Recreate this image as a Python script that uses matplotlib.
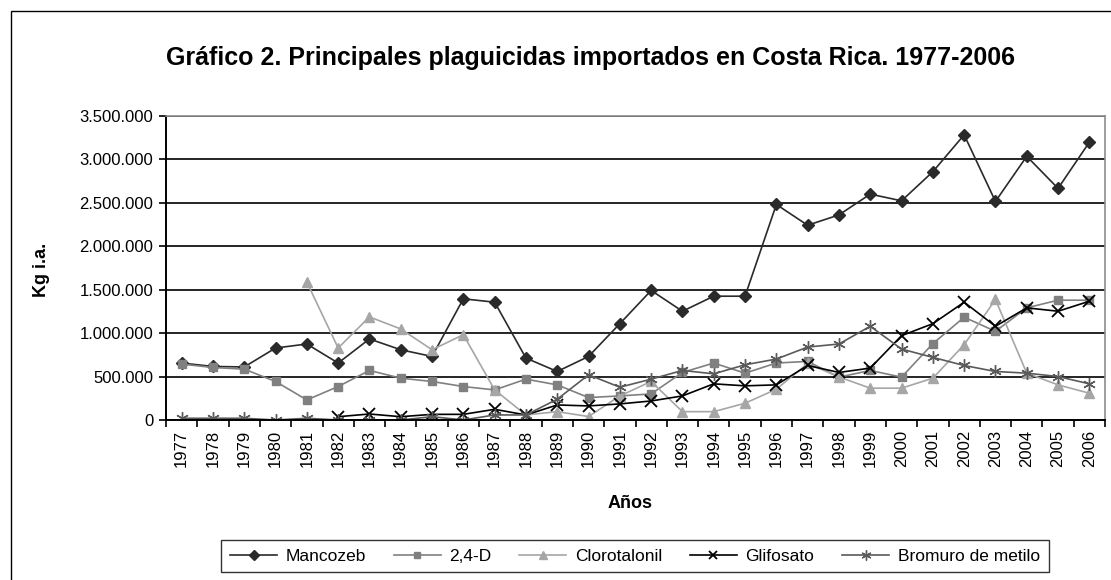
import numpy as np
import matplotlib
matplotlib.use("Agg")
import matplotlib.pyplot as plt
from matplotlib.ticker import FuncFormatter, MultipleLocator
from matplotlib.patches import Rectangle

plt.rcParams['font.family'] = ['Liberation Sans', 'DejaVu Sans']

years = list(range(1977, 2007))
nan = np.nan

mancozeb = [655000, 616000, 610000, 828000, 874000, 655000, 932000, 808000, 731000, 1394000,
            1355000, 712000, 558000, 731000, 1108000, 1490000, 1251000, 1424000, 1424000, 2479000,
            2240000, 2359000, 2598000, 2521000, 2856000, 3280000, 2514000, 3033000, 2664000, 3195000]
d24 = [643000, 604000, 585000, 443000, 231000, 385000, 570000, 481000, 443000, 385000,
       346000, 470000, 404000, 258000, 277000, 300000, 547000, 655000, 539000, 655000,
       674000, 493000, 570000, 493000, 878000, 1182000, 1020000, 1290000, 1378000, 1378000]
clorotalonil = [nan, nan, nan, nan, 1586000, 828000, 1186000, 1047000, 808000, 981000,
                346000, 58000, 96000, 40000, 277000, 443000, 96000, 96000, 193000, 354000,
                650000, 495000, 366000, 366000, 481000, 866000, 1386000, 539000, 404000, 308000]
glifosato = [nan, nan, nan, nan, nan, 38000, 69000, 38000, 65000, 65000,
             123000, 58000, 173000, 162000, 185000, 219000, 277000, 416000, 393000, 404000,
             627000, 547000, 597000, 970000, 1108000, 1355000, 1078000, 1290000, 1251000, 1366000]
bromuro = [20000, 20000, 20000, 0, 20000, 0, 0, 0, 38000, 0,
           58000, 58000, 239000, 520000, 377000, 470000, 570000, 531000, 635000, 701000,
           839000, 874000, 1078000, 816000, 720000, 627000, 558000, 539000, 500000, 416000]

W, H = 1111, 580
fig = plt.figure(figsize=(W / 100, H / 100), dpi=100)
ax = fig.add_axes([166 / W, 1 - 420 / H, (1105 - 166) / W, (420 - 115.7) / H])

# outer chart frame (only left/top visible in the original)
fig.patches.append(Rectangle((11 / W, -0.1), 1.2, 1 - 11 / H + 0.1, transform=fig.transFigure,
                             fill=False, edgecolor='black', linewidth=1.0))

x = np.arange(len(years))
ax.plot(x, mancozeb, color='#2a2a2a', lw=1.2, marker='D', ms=6, label='Mancozeb')
ax.plot(x, d24, color='#808080', lw=1.2, marker='s', ms=6, label='2,4-D')
ax.plot(x, clorotalonil, color='#a6a6a6', lw=1.2, marker='^', ms=7, label='Clorotalonil')
ax.plot(x, glifosato, color='black', lw=1.2, marker='x', ms=8, mew=1.3, label='Glifosato')
ax.plot(x, bromuro, color='#5a5a5a', lw=1.2, marker=(6, 2, 0), ms=9, mew=1.0, label='Bromuro de metilo')

ax.set_xlim(-0.5, len(years) - 0.5)
ax.set_ylim(0, 3500000)
ax.yaxis.set_major_locator(MultipleLocator(500000))
ax.yaxis.set_major_formatter(FuncFormatter(lambda v, p: f"{v:,.0f}".replace(',', '.')))
ax.grid(axis='y', color='black', lw=1.2)
ax.set_axisbelow(True)

ax.set_xticks(x)
ax.set_xticklabels([str(y) for y in years], rotation=90, fontsize=12)
ax.set_xticks(np.arange(-0.5, len(years)), minor=True)
ax.tick_params(axis='x', which='major', length=0, pad=7)
ax.tick_params(axis='x', which='minor', length=5, width=1.2, direction='out')
ax.tick_params(axis='y', length=5, width=1.2, labelsize=12, pad=4)

for s in ['left', 'bottom']:
    ax.spines[s].set_linewidth(1.4)
    ax.spines[s].set_color('black')
for s in ['top', 'right']:
    ax.spines[s].set_linewidth(1.2)
    ax.spines[s].set_color('#8c8c8c')

fig.text(591 / W, 1 - 58 / H, 'Gráfico 2. Principales plaguicidas importados en Costa Rica. 1977-2006',
         ha='center', va='center', fontsize=18, fontweight='bold')
fig.text(42 / W, 1 - 270 / H, 'Kg i.a.', rotation=90, ha='center', va='center',
         fontsize=13, fontweight='bold')
fig.text(630 / W, 1 - 503 / H, 'Años', ha='center', va='center', fontsize=13, fontweight='bold')

leg = fig.legend(loc='center', bbox_to_anchor=(635 / W, 1 - 556 / H), bbox_transform=fig.transFigure,
                 ncol=5, fontsize=12.5, frameon=True, fancybox=False, edgecolor='black',
                 handlelength=2.7, handletextpad=0.5, columnspacing=1.6, borderpad=0.5,
                 markerscale=0.8)
leg.get_frame().set_linewidth(1.0)

fig.savefig('out.png', dpi=100)
